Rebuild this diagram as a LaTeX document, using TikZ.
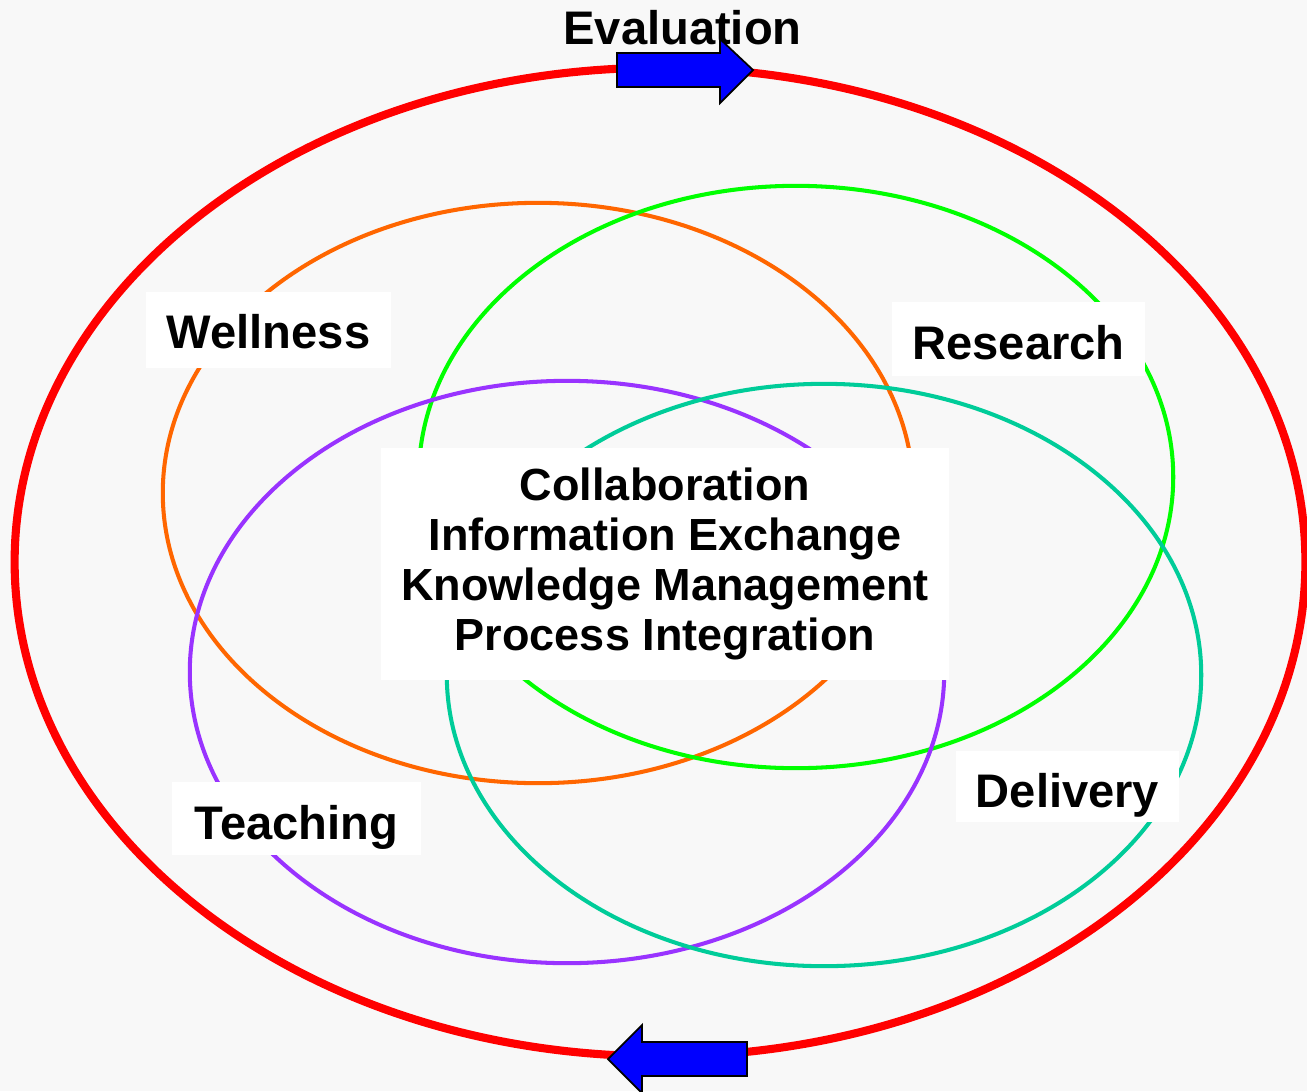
\documentclass[tikz,border=0pt]{standalone}
\usepackage{fontspec}
\setmainfont{Liberation Sans}
\begin{document}
\begin{tikzpicture}[x=0.01cm,y=-0.01cm,
  ring/.style={line width=1.15pt},
  lbl/.style={fill=white,inner sep=0pt,anchor=base,text height=0.565cm,text depth=0.18cm,font=\bfseries\fontsize{13.4}{16}\selectfont},
  bluearrow/.style={fill=blue,draw=black,line width=0.5pt,line join=miter}]
\definecolor{bg}{HTML}{F8F8F8}
\definecolor{orng}{HTML}{FF6600}
\definecolor{grn}{HTML}{00FF00}
\definecolor{purp}{HTML}{9933FF}
\definecolor{teal2}{HTML}{00CC99}
\fill[bg] (0,0) rectangle (1307,1091);
\useasboundingbox (0,0) rectangle (1307,1091);
% outer ring
\draw[red,line width=2.3pt] (660,562) ellipse [x radius=6.45cm, y radius=4.94cm];
% inner rings
\draw[ring,orng] (538,493) ellipse [x radius=3.75cm, y radius=2.9cm];
\draw[ring,grn] (796,477) ellipse [x radius=3.77cm, y radius=2.91cm];
\draw[ring,purp] (567,672) ellipse [x radius=3.77cm, y radius=2.91cm];
\draw[ring,teal2] (824,675) ellipse [x radius=3.77cm, y radius=2.91cm];
% labels
\node[lbl,minimum width=2.45cm,text height=0.56cm,text depth=0.2cm] (wellness) at (268.5,348) {Wellness};
\node[lbl,minimum width=2.53cm,text height=0.57cm,text depth=0.17cm] (research) at (1018.5,359) {Research};
\node[lbl,minimum width=2.49cm,text height=0.57cm,text depth=0.16cm] (teaching) at (296.5,839) {Teaching};
\node[lbl,minimum width=2.23cm,text height=0.56cm,text depth=0.15cm] (delivery) at (1067.5,807) {Delivery};
\node[fill=white,inner sep=0pt,minimum width=5.68cm,minimum height=2.31cm,align=center,
  font=\bfseries\fontsize{12.8}{14.2}\selectfont] (center) at (665,564)
  {Collaboration\\Information Exchange\\Knowledge Management\\Process Integration};
\node[font=\bfseries\fontsize{13.4}{16}\selectfont,inner sep=0pt,anchor=base] (evaluation) at (682.5,45) {Evaluation};
% blue arrows
\draw[bluearrow] (617,53) -- (720,53) -- (720,39) -- (753,70) -- (720,103) -- (720,87) -- (617,87) -- cycle;
\draw[bluearrow] (747,1042) -- (642,1042) -- (642,1025) -- (608,1059) -- (642,1093) -- (642,1076) -- (747,1076) -- cycle;
\end{tikzpicture}
\end{document}
